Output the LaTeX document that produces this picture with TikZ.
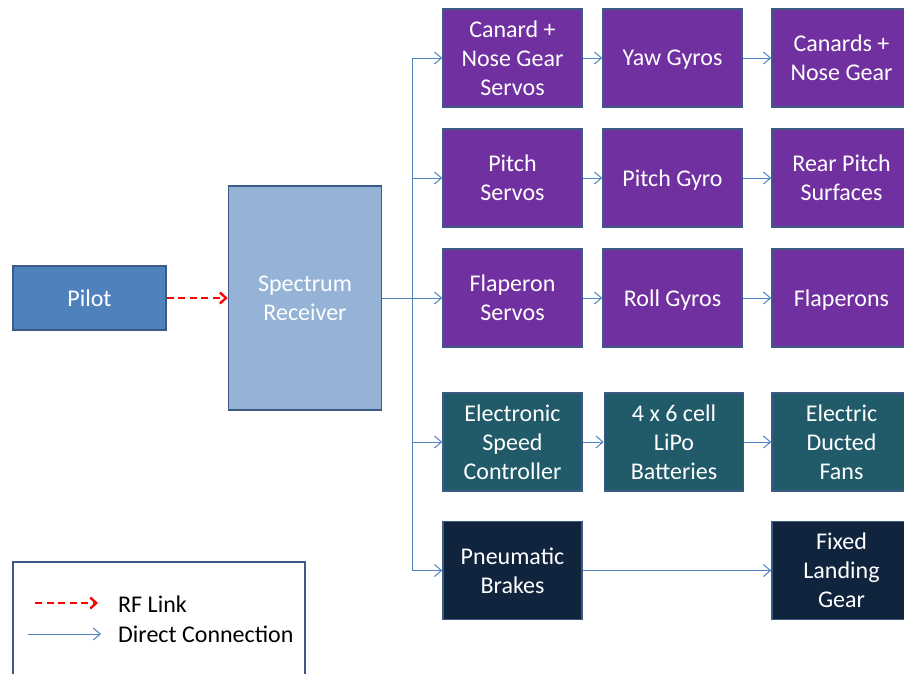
\documentclass[tikz,border=0pt]{standalone}
\usepackage{fontspec}
\setmainfont{Carlito}
\usetikzlibrary{arrows.meta}
\definecolor{pilotfill}{HTML}{4F81BD}
\definecolor{rcvfill}{HTML}{95B3D7}
\definecolor{purp}{HTML}{7030A0}
\definecolor{tealb}{HTML}{215A68}
\definecolor{navyb}{HTML}{10243E}
\definecolor{edgeb}{HTML}{3B5A84}
\definecolor{linkb}{HTML}{4F81BD}
\tikzset{
  box/.style={draw=edgeb, line width=1.6pt, rectangle, inner sep=0pt, align=center,
    minimum width=139pt, minimum height=98pt, text=white, text depth=0pt,
    font=\fontsize{24}{29}\selectfont},
  purplebox/.style={box, fill=purp},
  tealbox/.style={box, fill=tealb},
  navybox/.style={box, fill=navyb},
  conn/.style={draw=linkb, line width=1pt},
  connarrow/.style={conn, -{Straight Barb[length=7pt,width=12pt,line width=1pt]}},
  rflink/.style={draw=red, line width=2.4pt, dash pattern=on 7pt off 4.5pt,
    -{Straight Barb[length=6pt,width=11pt,line width=2.4pt]}},
  legtext/.style={anchor=west, inner sep=0pt, text=black, font=\fontsize{24}{29}\selectfont}
}
\begin{document}
\begin{tikzpicture}[x=1pt,y=-1pt]
\useasboundingbox (0,0) rectangle (904,673);
\clip (0,0) rectangle (904,673);
% left
\node[box, fill=pilotfill, minimum width=153pt, minimum height=64pt] (pilot) at (89.5,298) {Pilot};
\node[box, fill=rcvfill, minimum width=153pt, minimum height=224pt] (rcv) at (305,298) {Spectrum\\Receiver};
% row 1
\node[purplebox] (cns) at (512.5,58) {Canard +\\Nose Gear\\Servos};
\node[purplebox] (yaw) at (672.5,58) {Yaw Gyros};
\node[purplebox] (cng) at (841.5,58) {Canards +\\Nose Gear};
% row 2
\node[purplebox] (ps) at (512.5,178) {Pitch\\Servos};
\node[purplebox] (pg) at (672.5,178) {Pitch Gyro};
\node[purplebox] (rps) at (841.5,178) {Rear Pitch\\Surfaces};
% row 3
\node[purplebox] (fs) at (512.5,298) {Flaperon\\Servos};
\node[purplebox] (rg) at (672.5,298) {Roll Gyros};
\node[purplebox] (fl) at (841.5,298) {Flaperons};
% row 4
\node[tealbox] (esc) at (512.5,442) {Electronic\\Speed\\Controller};
\node[tealbox] (bat) at (674,442) {4 x 6 cell\\LiPo\\Batteries};
\node[tealbox] (edf) at (841.5,442) {Electric\\Ducted\\Fans};
% row 5
\node[navybox] (pb) at (512.5,570.5) {Pneumatic\\Brakes};
\node[navybox] (flg) at (841.5,570.5) {Fixed\\Landing\\Gear};
% RF link
\draw[rflink] (pilot.east) -- (rcv.west);
% trunk
\coordinate (tmid) at (412,298);
\coordinate (ttop) at (412,58);
\coordinate (tbot) at (412,570.5);
\draw[conn] (rcv.east) -- (tmid);
\draw[conn] (ttop) -- (tbot);
\draw[connarrow] (ttop) -- (cns.west);
\draw[connarrow] (412,178) -- (ps.west);
\draw[connarrow] (tmid) -- (fs.west);
\draw[connarrow] (412,442) -- (esc.west);
\draw[connarrow] (tbot) -- (pb.west);
% row arrows
\draw[connarrow] (cns.east) -- (yaw.west);
\draw[connarrow] (yaw.east) -- (cng.west);
\draw[connarrow] (ps.east) -- (pg.west);
\draw[connarrow] (pg.east) -- (rps.west);
\draw[connarrow] (fs.east) -- (rg.west);
\draw[connarrow] (rg.east) -- (fl.west);
\draw[connarrow] (esc.east) -- (bat.west);
\draw[connarrow] (bat.east) -- (edf.west);
\draw[connarrow] (pb.east) -- (flg.west);
% legend
\node[draw=edgeb, line width=1.8pt, fill=white, minimum width=292pt, minimum height=140pt, inner sep=0pt] (legend) at (159,632) {};
\coordinate (rfa) at (35,603);
\coordinate (rfb) at (98,603);
\coordinate (dca) at (28,634);
\coordinate (dcb) at (101,634);
\draw[rflink, line width=2pt] (rfa) -- (rfb);
\draw[connarrow] (dca) -- (dcb);
\node[legtext] (rftext) at (118,604) {RF Link};
\node[legtext] (dctext) at (118,634) {Direct Connection};
\end{tikzpicture}
\end{document}
